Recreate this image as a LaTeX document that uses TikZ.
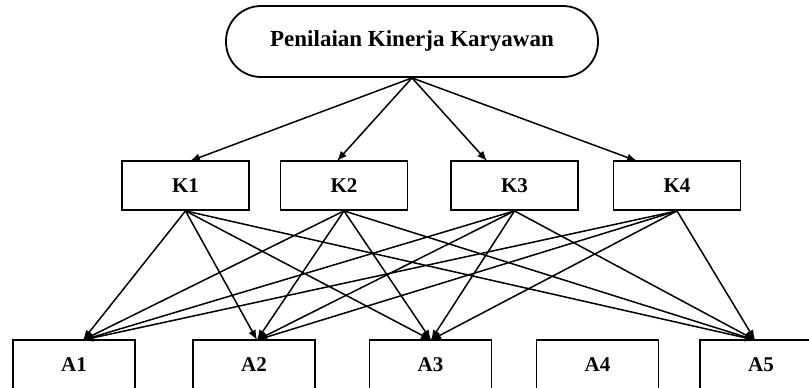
\documentclass[tikz,border=0pt]{standalone}
\usepackage{fontspec}
\setmainfont{Liberation Serif}
\usetikzlibrary{arrows.meta}
\begin{document}
\begin{tikzpicture}[x=1pt,y=-1pt,
 box/.style={draw, line width=1.8pt, minimum width=127pt, minimum height=49pt, inner sep=0pt, font=\fontsize{21}{24}\selectfont\bfseries},
 abox/.style={box, minimum width=122pt},
 arr/.style={line width=1.5pt, -{Latex[length=10pt,width=8pt]}}]
\useasboundingbox (0,0) rectangle (809,388);
\node[draw, line width=1.8pt, rounded corners=35pt, minimum width=372pt, minimum height=71pt, inner sep=0pt, font=\fontsize{23}{27}\selectfont\bfseries] (top) at (412,41.5) {Penilaian Kinerja Karyawan};
\node[box] (K1) at (185.5,185.5) {K1};
\node[box] (K2) at (344,185.5) {K2};
\node[box] (K3) at (514.5,185.5) {K3};
\node[box] (K4) at (677,185.5) {K4};
\node[abox] (A1) at (74,364.5) {A1};
\node[abox] (A2) at (254,364.5) {A2};
\node[abox] (A3) at (430.5,364.5) {A3};
\node[abox] (A4) at (597.5,364.5) {A4};
\node[abox] (A5) at (761,364.5) {A5};
\coordinate (k1in) at (190,161);
\coordinate (k2in) at (337,161);
\coordinate (k3in) at (487,161);
\coordinate (k4in) at (637,161);
\coordinate (a1in) at (83,340);
\coordinate (a2in) at (257,340);
\coordinate (a3in) at (431,340);
\coordinate (a5in) at (755,340);
\foreach \k in {1,2,3,4}{
  \draw[arr] (top.south) -- (k\k in);
  \foreach \a in {1,2,3,5}{
    \draw[arr] (K\k.south) -- (a\a in);
  }
}
\end{tikzpicture}
\end{document}
